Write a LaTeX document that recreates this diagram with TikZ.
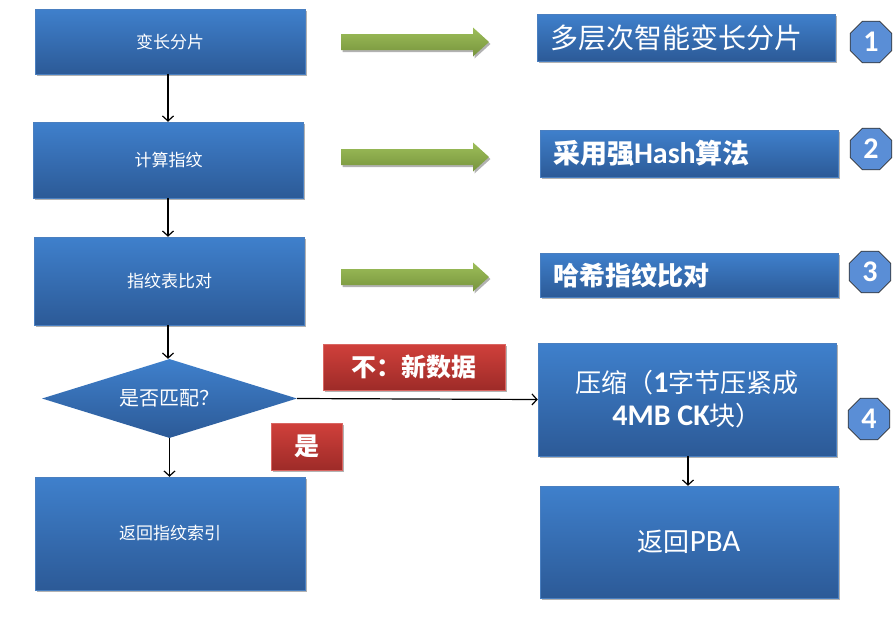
\documentclass[tikz,border=0pt]{standalone}
\usepackage{fontspec}
\setmainfont{Noto Sans CJK SC}
\newfontfamily\lat{Carlito}
\usetikzlibrary{shapes.geometric,shadows,arrows.meta}
\definecolor{boxtop}{HTML}{3F80CC}
\definecolor{boxbot}{HTML}{2C5A97}
\definecolor{boxedge}{HTML}{4A7FC0}
\definecolor{redtop}{HTML}{D0403B}
\definecolor{redbot}{HTML}{9E2B28}
\definecolor{grtop}{HTML}{9DBE5A}
\definecolor{grbot}{HTML}{77943C}
\definecolor{badgefill}{HTML}{5A8ED6}
\newcommand{\fsz}[1]{\fontsize{#1}{#1}\selectfont}
\begin{document}
\begin{tikzpicture}[x=1pt,y=-1pt,
  shad/.style={drop shadow={shadow xshift=1.5pt,shadow yshift=-2pt,opacity=0.3,fill=black}},
  bluebox/.style={rectangle,top color=boxtop,bottom color=boxbot,draw=boxedge,line width=0.5pt,
     text=white,inner sep=0pt,shad},
  leftbox/.style={bluebox,minimum width=270pt,font=\fsz{17}},
  infobox/.style={bluebox,minimum width=298pt,text width=272pt,align=left,inner xsep=13pt},
  redbox/.style={rectangle,top color=redtop,bottom color=redbot,draw=redtop!80!white,line width=0.5pt,
     text=white,inner sep=0pt,shad,font=\fsz{25}\bfseries},
  decision/.style={diamond,aspect=3.2,top color=boxtop,bottom color=boxbot,draw=none,text=white,
     inner sep=0pt,minimum width=255pt,minimum height=79pt,font=\fsz{20}},
  badge/.style={regular polygon,regular polygon sides=8,minimum size=45pt,fill=badgefill,
     draw=black!80,line width=0.8pt,text=white,inner sep=0pt,font=\lat\bfseries\fsz{30}},
  conn/.style={draw=black,line width=1.2pt,-{Straight Barb[length=5pt,width=11pt]}},
  greenarrow/.style={top color=grtop,bottom color=grbot,draw=none,shad}
]
\useasboundingbox (0,0) rectangle (895,619);

% left column
\node[leftbox,minimum height=65pt] (b1) at (170,41.5) {变长分片};
\node[leftbox,minimum height=76pt] (b2) at (168.5,160) {计算指纹};
\node[leftbox,minimum height=88pt] (b3) at (169.5,281) {指纹表比对};
\node[decision] (dia) at (169.5,398.5) {是否匹配？};
\node[leftbox,minimum height=113pt] (b5) at (170,533.5) {返回指纹索引};

% right column
\node[infobox,minimum height=47pt,font=\fsz{28}] (r1) at (686.5,37.5) {多层次智能变长分片};
\node[infobox,minimum height=47pt,font=\fsz{27}\bfseries] (r2) at (689,153.5) {采用强{\lat\fsz{30}Hash}算法};
\node[infobox,minimum height=44pt,font=\fsz{26}\bfseries] (r3) at (689,275) {哈希指纹比对};
\node[bluebox,minimum width=298pt,minimum height=113pt,align=center,font=\fsz{26}] (r4) at (687,399.5)
   {压缩（{\lat\bfseries\fsz{30}1}字节压紧成\\[7pt] {\lat\bfseries\fsz{30}4MB CK}块）};
\node[bluebox,minimum width=298pt,minimum height=112pt,font=\fsz{26}] (r5) at (689,542) {返回{\lat\fsz{31}PBA}};

% red labels
\node[redbox,minimum width=182pt,minimum height=46pt] (l1) at (414,367) {不：新数据\hspace{22pt}};
\node[redbox,minimum width=71pt,minimum height=47pt] (l2) at (306.5,446.5) {是\hspace{14pt}};

% badges
\node[badge] (n1) at (871,42) {1};
\node[badge] (n2) at (871,149) {2};
\node[badge] (n3) at (870,272) {3};
\node[badge] (n4) at (869,419) {4};

% green arrows
\foreach \cy in {42,157,277}{
  \path[greenarrow] (341,\cy-8) -- (473,\cy-8) -- (473,\cy-14.5) -- (489,\cy) -- (473,\cy+14.5)
     -- (473,\cy+8) -- (341,\cy+8) -- cycle;
}

% connectors
\draw[conn] (b1.south -| 168,0) -- (b2.north -| 168,0);
\draw[conn] (b2.south -| 168,0) -- (b3.north -| 168,0);
\draw[conn] (b3.south -| 168,0) -- (dia.north -| 168,0);
\draw[conn] (dia.south) -- (b5.north -| dia.south);
\draw[conn] (dia.east) -- (r4.west);
\draw[conn] (r4.south -| 688,0) -- (r5.north -| 688,0);
\end{tikzpicture}
\end{document}
